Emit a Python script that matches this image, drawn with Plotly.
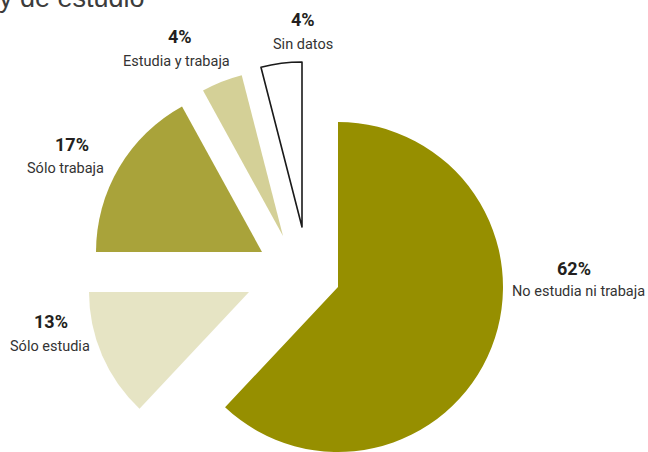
import plotly.graph_objects as go

# Situación de actividad y de estudio
categories = ["No estudia ni trabaja", "Sólo estudia", "Sólo trabaja",
              "Estudia y trabaja", "Sin datos"]
percentages = [62, 13, 17, 4, 4]
pct_labels = ["62%", "13%", "17%", "4%", "4%"]

slice_colors = ["#968F00", "#E6E4C4", "#A9A33A", "#D4D097", "#FFFFFF"]

W, H = 648, 452

# each wedge is exploded: one pie trace per wedge, centred on its own apex (px)
apex = [(338, 287), (249, 292), (262, 252), (283, 236), (302, 227)]
radius = [165, 160, 166, 166, 165]

# label anchors (px): percentage line and category line
pct_pos = [(574, 268), (51, 321), (72, 144), (180, 37), (303, 19)]
cat_pos = [(578, 291), (50, 346), (65, 168), (176, 61), (303, 45)]

LABEL_FONT = "Roboto, 'Liberation Sans', sans-serif"


def px_x(x):
    return x / W


def px_y(y):
    return 1 - y / H


fig = go.Figure()

for i, (cx, cy) in enumerate(apex):
    r = radius[i]
    colors = ["rgba(0,0,0,0)"] * len(categories)
    colors[i] = slice_colors[i]
    line_colors = ["rgba(0,0,0,0)"] * len(categories)
    line_widths = [0] * len(categories)
    if categories[i] == "Sin datos":
        line_colors[i] = "#1a1a1a"
        line_widths[i] = 1.6
    fig.add_trace(go.Pie(
        labels=categories,
        values=percentages,
        sort=False,
        direction="clockwise",
        rotation=0,
        textinfo="none",
        hoverinfo="label+percent",
        showlegend=False,
        marker=dict(colors=colors, line=dict(color=line_colors, width=line_widths)),
        domain=dict(
            x=[max(0, px_x(cx - r)), min(1, px_x(cx + r))],
            y=[max(0, px_y(cy + r)), min(1, px_y(cy - r))],
        ),
    ))

annotations = []
for i in range(len(categories)):
    annotations.append(dict(
        text="<b>%s</b>" % pct_labels[i],
        x=px_x(pct_pos[i][0]), y=px_y(pct_pos[i][1]),
        xref="paper", yref="paper", xanchor="center", yanchor="middle",
        showarrow=False,
        font=dict(family=LABEL_FONT, size=18, color="#231F20"),
    ))
    annotations.append(dict(
        text=categories[i],
        x=px_x(cat_pos[i][0]), y=px_y(cat_pos[i][1]),
        xref="paper", yref="paper", xanchor="center", yanchor="middle",
        showarrow=False,
        font=dict(family=LABEL_FONT, size=14.5, color="#333333"),
    ))

annotations.append(dict(
    text="y de estudio",
    x=px_x(-3), y=px_y(-2),
    xref="paper", yref="paper", xanchor="left", yanchor="middle",
    showarrow=False,
    font=dict(family="Liberation Sans", size=27, color="#3C3C3C"),
))

fig.update_layout(
    width=W, height=H,
    margin=dict(l=0, r=0, t=0, b=0),
    paper_bgcolor="white",
    plot_bgcolor="white",
    annotations=annotations,
)

fig.write_html("out.html")
